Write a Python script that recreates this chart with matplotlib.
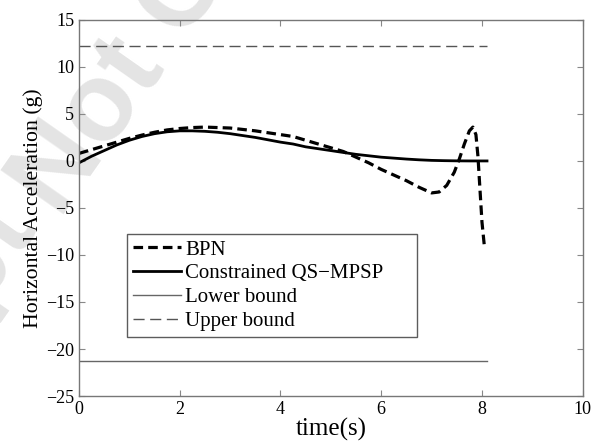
import matplotlib
matplotlib.use("Agg")
import matplotlib.pyplot as plt

# ── data ────────────────────────────────────────────────────────────────────
t_qs = [0.0, 0.25, 0.5, 0.75, 1.0, 1.25, 1.5, 1.75, 2.0, 2.25, 2.5, 2.75,
        3.0, 3.25, 3.5, 3.75, 4.0, 4.25, 4.5, 4.75, 5.0, 5.25, 5.5, 5.75,
        6.0, 6.25, 6.5, 6.75, 7.0, 7.25, 7.5, 7.75, 8.0, 8.1]
acc_qs = [-0.2, 0.5, 1.1, 1.7, 2.2, 2.6, 2.9, 3.1, 3.2, 3.2, 3.15, 3.05,
          2.9, 2.7, 2.5, 2.25, 2.0, 1.8, 1.5, 1.3, 1.1, 0.9, 0.7, 0.55,
          0.4, 0.3, 0.2, 0.12, 0.06, 0.03, 0.01, 0.0, 0.0, 0.0]

t_bpn = [0.0, 0.25, 0.5, 0.75, 1.0, 1.25, 1.5, 1.75, 2.0, 2.25, 2.5, 2.75,
         3.0, 3.25, 3.5, 3.75, 4.0, 4.25, 4.5, 4.75, 5.0, 5.25, 5.5, 5.75,
         6.0, 6.25, 6.5, 6.75, 7.0, 7.15, 7.3, 7.45, 7.55, 7.65, 7.75, 7.82,
         7.88, 7.92, 7.96, 8.0, 8.05]
acc_bpn = [0.8, 1.2, 1.6, 2.0, 2.4, 2.75, 3.05, 3.3, 3.45, 3.55, 3.6, 3.55,
           3.5, 3.35, 3.2, 3.0, 2.8, 2.6, 2.2, 1.8, 1.4, 1.0, 0.4, -0.2,
           -0.9, -1.5, -2.1, -2.8, -3.4, -3.3, -2.6, -1.2, 0.2, 1.8, 3.2, 3.6,
           2.8, 0.5, -3.0, -6.5, -9.2]

t_bound = [0.0, 8.1]
lower_bound = [-21.25, -21.25]
upper_bound = [12.25, 12.25]

y_ticks = list(range(-25, 16, 5))

plt.rcParams["font.family"] = ["Liberation Serif", "DejaVu Serif"]

fig = plt.figure(figsize=(5.94, 4.42), dpi=100)
ax = fig.add_axes([0.133, 0.104, 0.848, 0.851])
ax.set_facecolor("none")

# faint publisher watermark behind everything
wm = dict(family="Liberation Sans", weight="bold", fontsize=80,
          color="#e4e4e4", rotation=55, rotation_mode="anchor",
          va="baseline", zorder=-5)
fig.text(38 / 594, 1 - 230 / 442, "Accepted Manuscript", ha="right", **wm)
fig.text(60 / 594, 1 - 220 / 442, "Not Copyedited", ha="left", **wm)

ax.plot(t_bpn, acc_bpn, color="black", lw=2.3, dashes=(3.0, 1.6), label="BPN")
ax.plot(t_qs, acc_qs, color="black", lw=2.0, label="Constrained QS\u2212MPSP")
ax.plot(t_bound, lower_bound, color="#666666", lw=1.0, label="Lower bound")
ax.plot(t_bound, upper_bound, color="#555555", lw=1.0, dashes=(8, 4),
        label="Upper bound")

ax.set_xlim(0, 10)
ax.set_ylim(-25, 15)
ax.set_xticks(range(0, 11, 2))
ax.set_yticks(y_ticks)
ax.set_yticklabels([str(v).replace("-", "\u2212") for v in y_ticks])
ax.tick_params(direction="in", top=True, right=True, labelsize=13,
               length=4, color="#888888")
for s in ax.spines.values():
    s.set_color("#777777")
    s.set_linewidth(1.0)

ax.set_xlabel("time(s)", fontsize=18, labelpad=0)
ax.set_ylabel("Horizontal Acceleration (g)", fontsize=15.7, labelpad=2)

leg = ax.legend(loc="upper left", bbox_to_anchor=(0.095, 0.0, 0.577, 0.431),
                mode="expand", fontsize=15, frameon=True, fancybox=False,
                handlelength=2.3, handletextpad=0.2, borderpad=0.3,
                labelspacing=0.2, borderaxespad=0)
leg.get_frame().set_edgecolor("#333333")
leg.get_frame().set_linewidth(1.0)

fig.savefig("out.png", dpi=100)
